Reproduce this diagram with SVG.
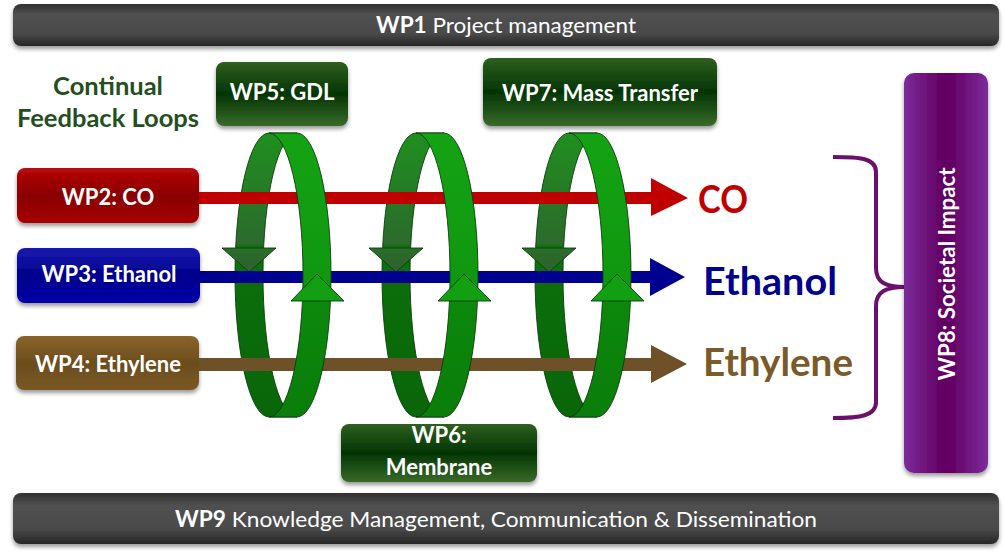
<svg xmlns="http://www.w3.org/2000/svg" width="1004" height="558" viewBox="0 0 1004 558">
<style>
text{font-family:Lato,"Open Sans","Liberation Sans",sans-serif}
.lbl{fill:#fff;font-weight:bold;font-size:22px;text-anchor:middle}
.bar{fill:#fff;font-size:22px;text-anchor:middle}
.ring{stroke:#0b3d0b;stroke-width:0.9}
.big{font-weight:bold;font-size:39px}
</style>
<defs>
<filter id="sh" x="-10%" y="-20%" width="120%" height="150%">
<feDropShadow dx="0" dy="3" stdDeviation="2" flood-color="#000" flood-opacity="0.4"/>
</filter>
<linearGradient id="gGray" x1="0" y1="0" x2="0" y2="1">
<stop offset="0" stop-color="#303030"/><stop offset="0.25" stop-color="#505050"/><stop offset="0.7" stop-color="#4a4a4a"/><stop offset="1" stop-color="#262626"/>
</linearGradient>
<linearGradient id="gRed" x1="0" y1="0" x2="0" y2="1">
<stop offset="0" stop-color="#b80808"/><stop offset="0.5" stop-color="#880000"/><stop offset="1" stop-color="#a80000"/>
</linearGradient>
<linearGradient id="gBlue" x1="0" y1="0" x2="0" y2="1">
<stop offset="0" stop-color="#1a1ab0"/><stop offset="0.5" stop-color="#00008c"/><stop offset="1" stop-color="#0000a8"/>
</linearGradient>
<linearGradient id="gBrown" x1="0" y1="0" x2="0" y2="1">
<stop offset="0" stop-color="#8a6428"/><stop offset="0.5" stop-color="#6c4d1e"/><stop offset="1" stop-color="#7a5824"/>
</linearGradient>
<linearGradient id="gGreen" x1="0" y1="0" x2="0" y2="1">
<stop offset="0" stop-color="#2f5f20"/><stop offset="0.5" stop-color="#033503"/><stop offset="1" stop-color="#3a6a2a"/>
</linearGradient>
<linearGradient id="gPurple" x1="0" y1="0" x2="1" y2="0">
<stop offset="0" stop-color="#7c2c9c"/><stop offset="0.45" stop-color="#640064"/><stop offset="0.55" stop-color="#640064"/><stop offset="1" stop-color="#7c2c9c"/>
</linearGradient>
<linearGradient id="gBack" x1="0" y1="0" x2="0" y2="1">
<stop offset="0" stop-color="#1f8f1f"/><stop offset="0.39" stop-color="#2c6a2c"/><stop offset="0.4" stop-color="#0b700b"/><stop offset="1" stop-color="#096609"/>
</linearGradient>
<linearGradient id="gFront" x1="0" y1="0" x2="0" y2="1">
<stop offset="0" stop-color="#14a314"/><stop offset="0.58" stop-color="#0f960f"/><stop offset="0.59" stop-color="#0c880c"/><stop offset="1" stop-color="#0a7d0a"/>
</linearGradient>
<linearGradient id="gDownHead" x1="0" y1="0" x2="0" y2="1">
<stop offset="0" stop-color="#2a6e2a"/><stop offset="1" stop-color="#2f5f2f"/>
</linearGradient>
<g id="ringBack">
<path class="ring" fill="url(#gBack)" d="M269,133 A34,142 0 0 0 269,417 L297,417 A34,142 0 0 1 297,133 Z"/>
<polygon class="ring" fill="url(#gDownHead)" points="222,248 276,248 249,272"/>
</g>
<g id="ringFront">
<path class="ring" fill="url(#gFront)" d="M269,133 A34,142 0 0 1 269,417 L297,417 A34,142 0 0 0 297,133 Z"/>
<polygon class="ring" fill="#12a012" points="291,301 344,301 317,274"/>
</g>
</defs>

<g id="wp1">
<rect x="13" y="4" width="986" height="42" rx="8" fill="url(#gGray)" filter="url(#sh)"/>
<text class="bar" x="506" y="33" textLength="260" lengthAdjust="spacingAndGlyphs"><tspan font-weight="bold">WP1</tspan> Project management</text>
</g>

<g id="feedback-title">
<text x="108" y="95" text-anchor="middle" font-weight="bold" font-size="25.5" fill="#234f1e">Continual</text>
<text x="108" y="127" text-anchor="middle" font-weight="bold" font-size="25.5" fill="#234f1e">Feedback Loops</text>
</g>

<g id="wp5">
<rect x="216" y="62" width="132" height="64" rx="8" fill="url(#gGreen)" filter="url(#sh)"/>
<text class="lbl" x="282" y="100">WP5: GDL</text>
</g>

<g id="wp7">
<rect x="483" y="58" width="234" height="68" rx="8" fill="url(#gGreen)" filter="url(#sh)"/>
<text class="lbl" x="600" y="101">WP7: Mass Transfer</text>
</g>

<g id="wp2">
<rect x="17" y="168" width="182" height="55" rx="8" fill="url(#gRed)" filter="url(#sh)"/>
<text class="lbl" x="108" y="205">WP2: CO</text>
</g>

<g id="wp3">
<rect x="17" y="248" width="183" height="55" rx="8" fill="url(#gBlue)" filter="url(#sh)"/>
<text class="lbl" x="109" y="282">WP3: Ethanol</text>
</g>

<g id="wp4">
<rect x="16" y="336" width="183" height="54" rx="8" fill="url(#gBrown)" filter="url(#sh)"/>
<text class="lbl" x="108" y="372">WP4: Ethylene</text>
</g>

<g id="loops-back">
<use href="#ringBack"/>
<use href="#ringBack" x="147"/>
<use href="#ringBack" x="300"/>
</g>

<g id="connectors">
<path fill="#c00000" d="M199,192 L651,192 L651,178 L688,198 L651,216 L651,204 L199,204 Z"/>
<path fill="#000090" d="M200,271 L650,271 L650,258 L685,277 L650,296 L650,283 L200,283 Z"/>
<path fill="#6e5128" d="M199,358 L651,358 L651,345 L687,364 L651,383 L651,371 L199,371 Z"/>
</g>

<g id="loops-front">
<use href="#ringFront"/>
<use href="#ringFront" x="147"/>
<use href="#ringFront" x="300"/>
</g>

<g id="outputs">
<text class="big" x="698" y="213" fill="#c00000" font-size="36" textLength="50" lengthAdjust="spacingAndGlyphs">CO</text>
<text class="big" x="703" y="295" fill="#000090" textLength="134" lengthAdjust="spacingAndGlyphs">Ethanol</text>
<text class="big" x="703" y="376" fill="#7a5a28" textLength="150" lengthAdjust="spacingAndGlyphs">Ethylene</text>
</g>

<g id="bracket">
<path d="M833,157 C860,157 876,158 876,172 L876,268 C876,282 885,287 905,287 C885,287 876,292 876,306 L876,402 C876,416 860,418 833,418" fill="none" stroke="#6c106e" stroke-width="4"/>
</g>

<g id="wp8">
<rect x="904" y="73" width="84" height="400" rx="10" fill="url(#gPurple)" filter="url(#sh)"/>
<text class="lbl" transform="translate(955,274) rotate(-90)" font-size="23" textLength="213" lengthAdjust="spacingAndGlyphs">WP8: Societal Impact</text>
</g>

<g id="wp6">
<rect x="341" y="424" width="196" height="58" rx="8" fill="url(#gGreen)" filter="url(#sh)"/>
<text class="lbl" x="439" y="443">WP6:</text>
<text class="lbl" x="439" y="475">Membrane</text>
</g>

<g id="wp9">
<rect x="13" y="493" width="986" height="51" rx="8" fill="url(#gGray)" filter="url(#sh)"/>
<text class="bar" x="496" y="527" textLength="642" lengthAdjust="spacingAndGlyphs"><tspan font-weight="bold">WP9</tspan> Knowledge Management, Communication &amp; Dissemination</text>
</g>
</svg>
